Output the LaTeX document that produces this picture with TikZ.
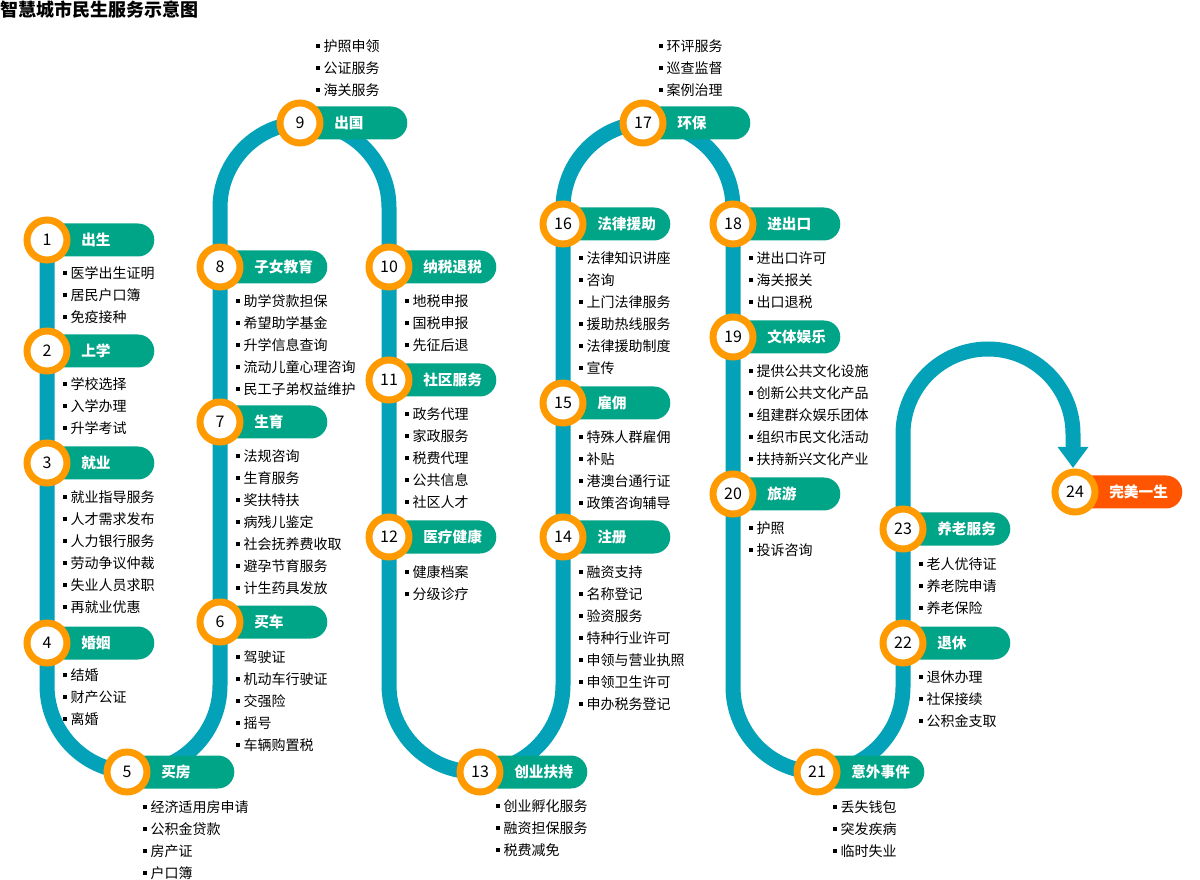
\documentclass[tikz,border=0pt]{standalone}
\usepackage{fontspec}
\setmainfont{Noto Sans CJK SC}
\usetikzlibrary{arrows.meta}
\definecolor{trackc}{HTML}{04A2B8}
\definecolor{pillg}{HTML}{00A487}
\definecolor{ringc}{HTML}{FF9A00}
\definecolor{pillr}{HTML}{FF5500}
\pgfdeclarelayer{bg}
\pgfsetlayers{bg,main}
\tikzset{
  num/.style={circle, draw=ringc, line width=5.25pt, fill=white, minimum size=30pt, inner sep=0pt, font=\fontsize{12}{12}\selectfont},
  pill/.style={rectangle, rounded corners=12.3pt, minimum width=80.25pt, minimum height=24.75pt, inner sep=0pt, anchor=west, draw=none},
  lab/.style={anchor=west, inner sep=0pt, text=white, font=\fontsize{11}{11}\selectfont\bfseries},
  item/.style={anchor=west, inner sep=0pt, text=black, font=\fontsize{10.5}{10.5}\selectfont},
  trackline/.style={draw=trackc, line width=11.25pt},
}
\newcommand\bul{\rule[2.4pt]{3pt}{3pt}\hspace{2.6pt}}
\newcommand\station[5]{%
  \node[pill, fill=#5] (p#1) at ({#2},{#3}) {};
  \node[lab] (t#1) at ({#2+34},{#3}) {#4};
  \node[num] (n#1) at ({#2},{#3}) {#1};
}
\newcommand\items[4]{%
  \foreach \t [count=\k] in {#4} {\node[item] (i#1-\k) at ({#2},{#3+22*(\k-1)}) {\bul\t};}
}
\begin{document}
\begin{tikzpicture}[x=0.75pt, y=-0.75pt]
\useasboundingbox (0,0) rectangle (1200,880);
\node[anchor=west, inner sep=0pt, font=\fontsize{13.5}{13.5}\selectfont\bfseries] (title) at (0,10) {智慧城市民生服务示意图};

\station{1}{47}{240}{出生}{pillg}
\station{2}{47}{351}{上学}{pillg}
\station{3}{47}{463}{就业}{pillg}
\station{4}{47}{643}{婚姻}{pillg}
\station{5}{127}{772}{买房}{pillg}
\station{6}{220}{622}{买车}{pillg}
\station{7}{220}{422}{生育}{pillg}
\station{8}{220}{267}{子女教育}{pillg}
\station{9}{300}{123}{出国}{pillg}
\station{10}{389}{267}{纳税退税}{pillg}
\station{11}{389}{380}{社区服务}{pillg}
\station{12}{389}{537}{医疗健康}{pillg}
\station{13}{480}{772}{创业扶持}{pillg}
\station{14}{563}{537}{注册}{pillg}
\station{15}{563}{403}{雇佣}{pillg}
\station{16}{563}{224}{法律援助}{pillg}
\station{17}{643}{123}{环保}{pillg}
\station{18}{733}{224}{进出口}{pillg}
\station{19}{733}{337}{文体娱乐}{pillg}
\station{20}{733}{494}{旅游}{pillg}
\station{21}{817}{772}{意外事件}{pillg}
\station{22}{903}{643}{退休}{pillg}
\station{23}{903}{529}{养老服务}{pillg}
\station{24}{1075}{492}{完美一生}{pillr}

\items{1}{63}{273}{医学出生证明,居民户口簿,免疫接种}
\items{2}{63}{384}{学校选择,入学办理,升学考试}
\items{3}{63}{497}{就业指导服务,人才需求发布,人力银行服务,劳动争议仲裁,失业人员求职,再就业优惠}
\items{4}{63}{675}{结婚,财产公证,离婚}
\items{5}{143}{807}{经济适用房申请,公积金贷款,房产证,户口簿}
\items{6}{236}{657}{驾驶证,机动车行驶证,交强险,摇号,车辆购置税}
\items{7}{236}{456}{法规咨询,生育服务,奖扶特扶,病残儿鉴定,社会抚养费收取,避孕节育服务,计生药具发放}
\items{8}{236}{301}{助学贷款担保,希望助学基金,升学信息查询,流动儿童心理咨询,民工子弟权益维护}
\items{9}{316}{46}{护照申领,公证服务,海关服务}
\items{10}{405}{301}{地税申报,国税申报,先征后退}
\items{11}{405}{414}{政务代理,家政服务,税费代理,公共信息,社区人才}
\items{12}{405}{572}{健康档案,分级诊疗}
\items{13}{496}{806}{创业孵化服务,融资担保服务,税费减免}
\items{14}{579}{572}{融资支持,名称登记,验资服务,特种行业许可,申领与营业执照,申领卫生许可,申办税务登记}
\items{15}{579}{437}{特殊人群雇佣,补贴,港澳台通行证,政策咨询辅导}
\items{16}{579}{258}{法律知识讲座,咨询,上门法律服务,援助热线服务,法律援助制度,宣传}
\items{17}{659}{46}{环评服务,巡查监督,案例治理}
\items{18}{749}{258}{进出口许可,海关报关,出口退税}
\items{19}{749}{371}{提供公共文化设施,创新公共文化产品,组建群众娱乐团体,组织市民文化活动,扶持新兴文化产业}
\items{20}{749}{528}{护照,投诉咨询}
\items{21}{833}{807}{丢失钱包,突发疾病,临时失业}
\items{22}{919}{677}{退休办理,社保接续,公积金支取}
\items{23}{919}{564}{老人优待证,养老院申请,养老保险}

\coordinate (tip) at (1073,468);
\begin{pgfonlayer}{bg}
\draw[trackline, -{Triangle[width=22pt,length=15.75pt]}]
  (n1.center) -- (47,685.5) arc[start angle=180, end angle=0, radius=86.5]
  -- (220,207.5) arc[start angle=180, end angle=360, radius=84.5]
  -- (389,685) arc[start angle=180, end angle=0, radius=87]
  -- (563,208) arc[start angle=180, end angle=360, radius=85]
  -- (733,687) arc[start angle=180, end angle=0, radius=85]
  -- (903,434) arc[start angle=180, end angle=360, radius=85]
  -- (tip);
\end{pgfonlayer}
\end{tikzpicture}
\end{document}
